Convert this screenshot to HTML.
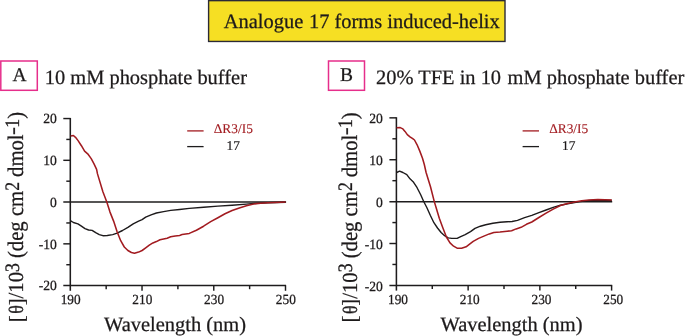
<!DOCTYPE html>
<html><head><meta charset="utf-8"><title>Analogue 17 forms induced-helix</title>
<style>
html,body{margin:0;padding:0;background:#fff;}
body{width:685px;height:336px;overflow:hidden;font-family:"Liberation Serif",serif;}
svg text{stroke-width:0.25px;}
svg{display:block;will-change:transform;text-rendering:geometricPrecision;font-family:"Liberation Serif",serif;}
</style></head><body>
<svg width="685" height="336" viewBox="0 0 685 336">
<rect width="685" height="336" fill="#fff"/>
<rect x="208.6" y="0.65" width="296.4" height="40.8" fill="#f6df23" stroke="#2b2a35" stroke-width="1.4"/>
<text x="223.7" y="28.15" font-size="20.48" fill="#1d1a1b" stroke="#1d1a1b">Analogue<tspan dx="0.7"> 17</tspan><tspan dx="-0.3"> forms induced-helix</tspan></text>
<path d="M70.3,117.95 V290.8" stroke="#1e1c1d" stroke-width="1.55" fill="none"/>
<path d="M63.3,285.6 H286.1" stroke="#1e1c1d" stroke-width="1.5" fill="none"/>
<path d="M63.3,202.075 H286.1" stroke="#1e1c1d" stroke-width="1.5" fill="none"/>
<path d="M63.3,118.55 H70.3" stroke="#1e1c1d" stroke-width="1.45"/>
<path d="M66.3,139.43 H70.3" stroke="#1e1c1d" stroke-width="1.45"/>
<path d="M63.3,160.31 H70.3" stroke="#1e1c1d" stroke-width="1.45"/>
<path d="M66.3,181.19 H70.3" stroke="#1e1c1d" stroke-width="1.45"/>
<path d="M66.3,222.96 H70.3" stroke="#1e1c1d" stroke-width="1.45"/>
<path d="M63.3,243.84 H70.3" stroke="#1e1c1d" stroke-width="1.45"/>
<path d="M66.3,264.72 H70.3" stroke="#1e1c1d" stroke-width="1.45"/>
<path d="M106.17,285.6 V289.20000000000005" stroke="#1e1c1d" stroke-width="1.45"/>
<path d="M142.03,285.6 V290.8" stroke="#1e1c1d" stroke-width="1.45"/>
<path d="M177.90,285.6 V289.20000000000005" stroke="#1e1c1d" stroke-width="1.45"/>
<path d="M213.77,285.6 V290.8" stroke="#1e1c1d" stroke-width="1.45"/>
<path d="M249.63,285.6 V289.20000000000005" stroke="#1e1c1d" stroke-width="1.45"/>
<path d="M285.50,285.6 V290.8" stroke="#1e1c1d" stroke-width="1.45"/>
<text transform="translate(56.80,123.35) scale(1,1.03)" font-size="13.6" text-anchor="end" fill="#1d1a1b" stroke="#1d1a1b">20</text>
<text transform="translate(56.80,165.11) scale(1,1.03)" font-size="13.6" text-anchor="end" fill="#1d1a1b" stroke="#1d1a1b">10</text>
<text transform="translate(56.80,206.88) scale(1,1.03)" font-size="13.6" text-anchor="end" fill="#1d1a1b" stroke="#1d1a1b">0</text>
<text transform="translate(56.80,248.64) scale(1,1.03)" font-size="13.6" text-anchor="end" fill="#1d1a1b" stroke="#1d1a1b">-10</text>
<text transform="translate(56.80,290.40) scale(1,1.03)" font-size="13.6" text-anchor="end" fill="#1d1a1b" stroke="#1d1a1b">-20</text>
<text transform="translate(70.60,304.35) scale(1,1.05)" font-size="13.3" text-anchor="middle" fill="#1d1a1b" stroke="#1d1a1b">190</text>
<text transform="translate(142.33,304.35) scale(1,1.05)" font-size="13.3" text-anchor="middle" fill="#1d1a1b" stroke="#1d1a1b">210</text>
<text transform="translate(214.07,304.35) scale(1,1.05)" font-size="13.3" text-anchor="middle" fill="#1d1a1b" stroke="#1d1a1b">230</text>
<text transform="translate(285.80,304.35) scale(1,1.05)" font-size="13.3" text-anchor="middle" fill="#1d1a1b" stroke="#1d1a1b">250</text>
<text x="104.1" y="331.2" font-size="20.45" fill="#1d1a1b" stroke="#1d1a1b">Wavelength (nm)</text>
<text transform="translate(24.10,322.15) rotate(-90) scale(1,1.04)" font-size="20.7" fill="#1d1a1b" stroke="#1d1a1b">[</text>
<text transform="translate(23.20,313.75) rotate(-90) scale(1,1.15)" font-size="17.9" fill="#1d1a1b" stroke="#1d1a1b">θ</text>
<text transform="translate(24.10,305.35) rotate(-90) scale(1,1.04)" font-size="20.7" fill="#1d1a1b" stroke="#1d1a1b">]</text>
<text transform="translate(23.20,298.45) rotate(-90) scale(1,1.035)" font-size="20.7" fill="#1d1a1b" stroke="#1d1a1b">/10</text>
<text transform="translate(18.60,271.95) rotate(-90) scale(1,1.16)" font-size="17.7" fill="#1d1a1b" stroke="#1d1a1b">3</text>
<text transform="translate(23.20,258.05) rotate(-90) scale(1,1.075)" font-size="20.7" fill="#1d1a1b" stroke="#1d1a1b">(deg cm</text>
<text transform="translate(18.60,190.65) rotate(-90) scale(1,1.16)" font-size="17.7" fill="#1d1a1b" stroke="#1d1a1b">2</text>
<text transform="translate(23.20,176.95) rotate(-90) scale(1,1.075)" font-size="20.7" fill="#1d1a1b" stroke="#1d1a1b">dmol</text>
<text transform="translate(18.60,134.95) rotate(-90) scale(1.35,1.16)" font-size="17.7" fill="#1d1a1b" stroke="#1d1a1b">-</text>
<text transform="translate(18.60,127.75) rotate(-90) scale(1,1.16)" font-size="17.7" fill="#1d1a1b" stroke="#1d1a1b">1</text>
<text transform="translate(23.20,118.85) rotate(-90) scale(1,1.075)" font-size="20.7" fill="#1d1a1b" stroke="#1d1a1b">)</text>
<path d="M70.7,220.9 L73.4,222.5 L77.9,223.8 L81.4,226.1 L85.0,228.6 L88.6,230.0 L92.1,230.4 L95.7,232.7 L99.3,234.6 L102.9,235.7 L107.3,235.5 L112.7,234.6 L117.1,233.2 L122.5,230.5 L127.9,227.3 L133.2,223.8 L138.6,221.1 L142.1,219.6 L145.7,217.1 L151.1,214.8 L156.4,213.0 L163.6,211.6 L170.7,210.4 L179.6,209.5 L189.3,208.4 L203.6,207.3 L217.9,206.1 L232.1,205.2 L246.4,204.1 L257.1,203.2 L267.9,202.7 L285.7,202.3" stroke="#1d1a1b" stroke-width="1.4" fill="none" stroke-linejoin="round"/>
<path d="M70.7,135.9 L73.4,135.5 L75.5,137.3 L77.9,140.4 L81.4,145.7 L84.6,151.1 L87.7,153.8 L91.2,158.6 L93.9,163.6 L96.6,169.3 L97.5,173.9 L102.9,191.8 L106.8,202.0 L110.0,212.1 L113.6,221.1 L117.1,231.8 L120.7,240.7 L124.3,247.0 L127.9,250.5 L131.4,252.5 L134.5,253.2 L138.6,252.1 L142.1,250.5 L145.7,247.9 L149.3,245.2 L152.9,242.9 L156.4,241.6 L160.0,239.8 L163.6,238.9 L167.1,238.2 L170.7,236.8 L175.2,235.9 L179.6,235.4 L182.1,234.6 L189.3,233.4 L196.4,230.2 L203.6,226.2 L210.7,221.6 L217.9,217.7 L225.0,213.8 L232.1,210.5 L239.3,207.9 L246.4,205.7 L253.6,203.9 L260.7,203.2 L267.9,202.7 L275.0,202.5 L285.7,202.1" stroke="#a21b20" stroke-width="1.55" fill="none" stroke-linejoin="round"/>
<path d="M187.2,130.9 H203.6" stroke="#a21b20" stroke-width="1.3"/>
<path d="M187.2,146.6 H203.6" stroke="#1e1c1d" stroke-width="1.3"/>
<text x="233.29999999999998" y="132.9" font-size="13.4" text-anchor="middle" fill="#a21b20" stroke="#a21b20" style="stroke-width:0.1px">ΔR3/I5</text>
<text x="233.29999999999998" y="150.3" font-size="13.4" text-anchor="middle" fill="#1d1a1b" stroke="#1d1a1b" style="stroke-width:0.2px">17</text>
<text x="44.7" y="83.9" font-size="20.45" fill="#1d1a1b" stroke="#1d1a1b">10 mM phosphate buffer</text>
<rect x="0.8" y="61" width="36.5" height="29.3" fill="#fff" stroke="#e62e8b" stroke-width="1.5"/>
<text x="19.6" y="81.4" font-size="19.5" text-anchor="middle" fill="#1d1a1b" stroke="#1d1a1b">A</text>
<path d="M396.4,117.25 V290.59999999999997" stroke="#1e1c1d" stroke-width="1.55" fill="none"/>
<path d="M389.4,285.4 H612.1999999999999" stroke="#1e1c1d" stroke-width="1.5" fill="none"/>
<path d="M389.4,201.625 H612.1999999999999" stroke="#1e1c1d" stroke-width="1.5" fill="none"/>
<path d="M389.4,117.85 H396.4" stroke="#1e1c1d" stroke-width="1.45"/>
<path d="M392.4,138.79 H396.4" stroke="#1e1c1d" stroke-width="1.45"/>
<path d="M389.4,159.74 H396.4" stroke="#1e1c1d" stroke-width="1.45"/>
<path d="M392.4,180.68 H396.4" stroke="#1e1c1d" stroke-width="1.45"/>
<path d="M392.4,222.57 H396.4" stroke="#1e1c1d" stroke-width="1.45"/>
<path d="M389.4,243.51 H396.4" stroke="#1e1c1d" stroke-width="1.45"/>
<path d="M392.4,264.46 H396.4" stroke="#1e1c1d" stroke-width="1.45"/>
<path d="M432.27,285.4 V289.0" stroke="#1e1c1d" stroke-width="1.45"/>
<path d="M468.13,285.4 V290.59999999999997" stroke="#1e1c1d" stroke-width="1.45"/>
<path d="M504.00,285.4 V289.0" stroke="#1e1c1d" stroke-width="1.45"/>
<path d="M539.87,285.4 V290.59999999999997" stroke="#1e1c1d" stroke-width="1.45"/>
<path d="M575.73,285.4 V289.0" stroke="#1e1c1d" stroke-width="1.45"/>
<path d="M611.60,285.4 V290.59999999999997" stroke="#1e1c1d" stroke-width="1.45"/>
<text transform="translate(382.90,123.15) scale(1,1.03)" font-size="13.6" text-anchor="end" fill="#1d1a1b" stroke="#1d1a1b">20</text>
<text transform="translate(382.90,165.04) scale(1,1.03)" font-size="13.6" text-anchor="end" fill="#1d1a1b" stroke="#1d1a1b">10</text>
<text transform="translate(382.90,206.93) scale(1,1.03)" font-size="13.6" text-anchor="end" fill="#1d1a1b" stroke="#1d1a1b">0</text>
<text transform="translate(382.90,248.81) scale(1,1.03)" font-size="13.6" text-anchor="end" fill="#1d1a1b" stroke="#1d1a1b">-10</text>
<text transform="translate(382.90,290.70) scale(1,1.03)" font-size="13.6" text-anchor="end" fill="#1d1a1b" stroke="#1d1a1b">-20</text>
<text transform="translate(398.00,304.45) scale(1,1.05)" font-size="13.3" text-anchor="middle" fill="#1d1a1b" stroke="#1d1a1b">190</text>
<text transform="translate(469.73,304.45) scale(1,1.05)" font-size="13.3" text-anchor="middle" fill="#1d1a1b" stroke="#1d1a1b">210</text>
<text transform="translate(541.47,304.45) scale(1,1.05)" font-size="13.3" text-anchor="middle" fill="#1d1a1b" stroke="#1d1a1b">230</text>
<text transform="translate(613.20,304.45) scale(1,1.05)" font-size="13.3" text-anchor="middle" fill="#1d1a1b" stroke="#1d1a1b">250</text>
<text x="440.59999999999997" y="331.2" font-size="20.45" fill="#1d1a1b" stroke="#1d1a1b">Wavelength (nm)</text>
<text transform="translate(357.40,322.45) rotate(-90) scale(1,1.04)" font-size="20.7" fill="#1d1a1b" stroke="#1d1a1b">[</text>
<text transform="translate(356.50,314.05) rotate(-90) scale(1,1.15)" font-size="17.9" fill="#1d1a1b" stroke="#1d1a1b">θ</text>
<text transform="translate(357.40,305.65) rotate(-90) scale(1,1.04)" font-size="20.7" fill="#1d1a1b" stroke="#1d1a1b">]</text>
<text transform="translate(356.50,298.75) rotate(-90) scale(1,1.035)" font-size="20.7" fill="#1d1a1b" stroke="#1d1a1b">/10</text>
<text transform="translate(351.90,272.25) rotate(-90) scale(1,1.16)" font-size="17.7" fill="#1d1a1b" stroke="#1d1a1b">3</text>
<text transform="translate(356.50,258.35) rotate(-90) scale(1,1.075)" font-size="20.7" fill="#1d1a1b" stroke="#1d1a1b">(deg cm</text>
<text transform="translate(351.90,190.95) rotate(-90) scale(1,1.16)" font-size="17.7" fill="#1d1a1b" stroke="#1d1a1b">2</text>
<text transform="translate(356.50,177.25) rotate(-90) scale(1,1.075)" font-size="20.7" fill="#1d1a1b" stroke="#1d1a1b">dmol</text>
<text transform="translate(351.90,135.25) rotate(-90) scale(1.35,1.16)" font-size="17.7" fill="#1d1a1b" stroke="#1d1a1b">-</text>
<text transform="translate(351.90,128.05) rotate(-90) scale(1,1.16)" font-size="17.7" fill="#1d1a1b" stroke="#1d1a1b">1</text>
<text transform="translate(356.50,119.15) rotate(-90) scale(1,1.075)" font-size="20.7" fill="#1d1a1b" stroke="#1d1a1b">)</text>
<path d="M396.6,172.5 L399.6,171.1 L402.9,172.5 L406.8,174.6 L410.0,178.8 L413.6,182.3 L417.1,187.7 L420.7,194.8 L423.7,201.5 L426.8,207.5 L430.4,215.5 L433.9,222.7 L437.5,228.0 L441.1,232.5 L444.6,235.7 L448.2,237.9 L451.8,238.4 L457.1,238.4 L460.7,236.6 L465.2,234.6 L470.5,231.6 L475.0,228.4 L480.4,226.2 L485.7,224.8 L492.9,223.2 L500.0,222.3 L507.1,221.8 L512.1,221.5 L517.5,220.4 L524.6,217.7 L531.8,215.4 L538.9,212.7 L546.1,210.0 L553.2,207.3 L560.4,205.2 L567.5,203.9 L574.6,202.5 L580.0,201.6 L587.1,200.7 L597.9,200.2 L611.8,200.4" stroke="#1d1a1b" stroke-width="1.4" fill="none" stroke-linejoin="round"/>
<path d="M396.6,127.7 L400.2,127.6 L402.9,128.9 L405.0,131.4 L407.3,134.6 L410.0,136.8 L412.7,138.6 L414.5,140.0 L417.1,144.8 L419.8,151.1 L422.5,158.2 L424.3,164.5 L426.1,172.5 L430.5,186.8 L434.3,201.6 L436.6,209.3 L439.3,218.2 L442.9,228.0 L446.4,237.0 L450.0,242.9 L453.6,246.2 L457.1,248.2 L461.6,248.2 L466.1,246.8 L469.6,244.1 L473.2,241.4 L478.6,238.4 L483.9,236.1 L489.3,233.9 L493.8,232.5 L500.0,232.1 L507.1,231.2 L511.6,230.7 L516.1,228.9 L521.1,227.3 L526.4,224.3 L531.8,222.0 L538.9,217.5 L546.1,213.2 L553.2,209.1 L560.4,205.5 L567.5,203.4 L574.6,202.0 L581.8,200.7 L588.9,200.0 L597.9,199.5 L605.0,199.8 L611.8,200.0" stroke="#a21b20" stroke-width="1.55" fill="none" stroke-linejoin="round"/>
<path d="M522.6,130.9 H539.0" stroke="#a21b20" stroke-width="1.3"/>
<path d="M522.6,146.6 H539.0" stroke="#1e1c1d" stroke-width="1.3"/>
<text x="568.7" y="132.9" font-size="13.4" text-anchor="middle" fill="#a21b20" stroke="#a21b20" style="stroke-width:0.1px">ΔR3/I5</text>
<text x="568.7" y="150.3" font-size="13.4" text-anchor="middle" fill="#1d1a1b" stroke="#1d1a1b" style="stroke-width:0.2px">17</text>
<text x="376.0" y="83.9" font-size="20.45" fill="#1d1a1b" stroke="#1d1a1b">20% TFE in 10<tspan dx="1.4"> mM phosphate buffer</tspan></text>
<rect x="328.5" y="61" width="36.0" height="29.3" fill="#fff" stroke="#e62e8b" stroke-width="1.5"/>
<text x="346.6" y="81.4" font-size="19.5" text-anchor="middle" fill="#1d1a1b" stroke="#1d1a1b">B</text>
</svg>
</body></html>
